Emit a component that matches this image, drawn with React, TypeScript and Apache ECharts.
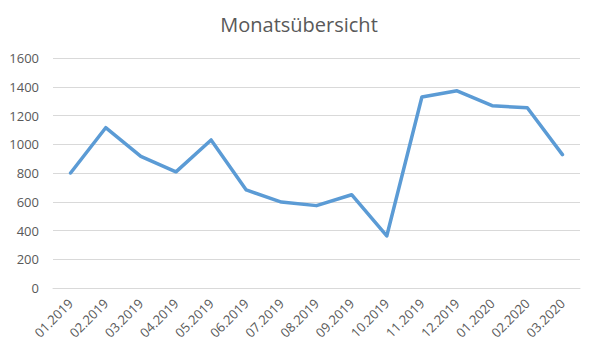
import React, { useEffect, useRef } from "react";
import * as echarts from "echarts";

const categories = [
  "01.2019", "02.2019", "03.2019", "04.2019", "05.2019", "06.2019", "07.2019", "08.2019",
  "09.2019", "10.2019", "11.2019", "12.2019", "01.2020", "02.2020", "03.2020",
];
const values = [800, 1115, 915, 808, 1030, 682, 598, 573, 649, 362, 1329, 1372, 1268, 1254, 928];
const yMin = 0;
const yMax = 1600;
const yInterval = 200;
const title = "Monatsübersicht";

export default function App() {
  const ref = useRef<HTMLDivElement>(null);
  useEffect(() => {
    if (!ref.current) return;
    const chart = echarts.init(ref.current, null, { renderer: "svg" });
    const font = "Open Sans";
    chart.setOption({
      animation: false,
      backgroundColor: "#ffffff",
      title: {
        text: title,
        left: "center",
        top: 9,
        textStyle: { color: "#595959", fontSize: 20, fontWeight: "normal", fontFamily: font },
      },
      grid: { left: 53, right: 18, top: 58, bottom: 65, containLabel: false },
      xAxis: {
        type: "category",
        data: categories,
        boundaryGap: true,
        axisLine: { show: true, lineStyle: { color: "#d9d9d9", width: 1 } },
        axisTick: { show: false },
        axisLabel: {
          rotate: 45,
          interval: 0,
          color: "#595959",
          fontSize: 13,
          fontFamily: font,
          margin: 13,
        },
      },
      yAxis: {
        type: "value",
        min: yMin,
        max: yMax,
        interval: yInterval,
        axisLine: { show: false },
        axisTick: { show: false },
        splitLine: { lineStyle: { color: "#d9d9d9", width: 1 } },
        axisLabel: {
          color: "#595959",
          fontSize: 13,
          fontFamily: font,
          margin: 14,
          formatter: (v: number) => String(v),
        },
      },
      series: [
        {
          type: "line",
          data: values,
          showSymbol: false,
          symbol: "none",
          lineStyle: { color: "#5b9bd5", width: 3.5, cap: "round", join: "round" },
          itemStyle: { color: "#5b9bd5" },
        },
      ],
    });
    return () => chart.dispose();
  }, []);
  return <div ref={ref} style={{ width: 598, height: 353, position: "absolute", left: 0, top: 0 }} />;
}
